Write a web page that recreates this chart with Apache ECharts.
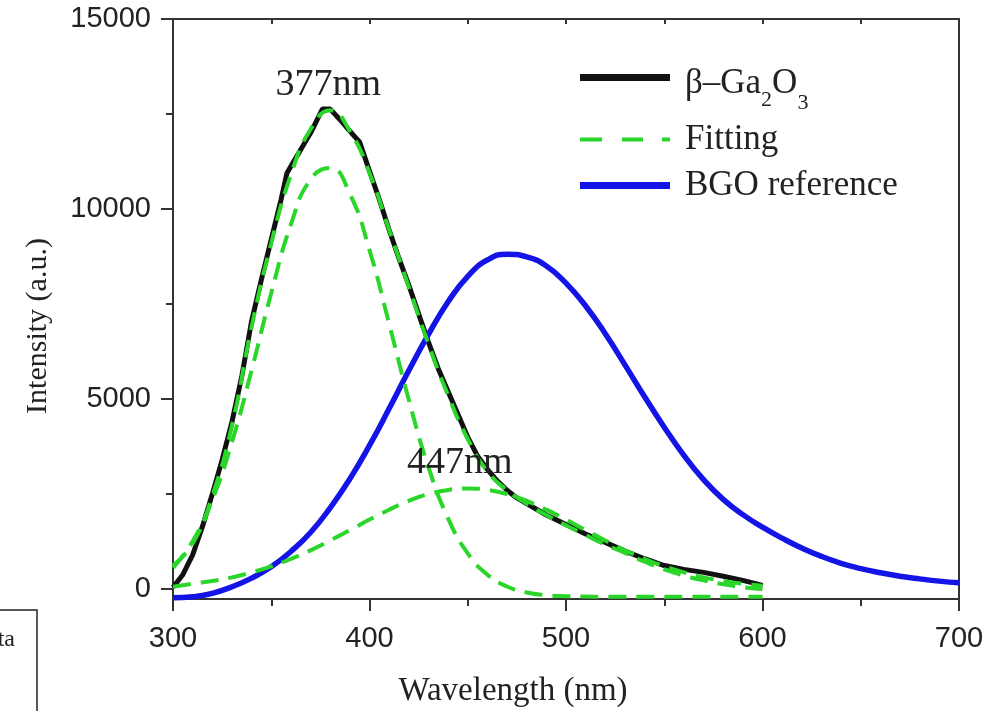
<!DOCTYPE html>
<html><head><meta charset="utf-8">
<script src="https://cdn.jsdelivr.net/npm/echarts@6/dist/echarts.min.js"></script>
<style>html,body{margin:0;padding:0;background:#fff}#c{width:996px;height:711px}</style>
</head><body><div id="c"></div>
<script>
// β-Ga2O3 measured emission
const gaWl  = [300,305,310,315,320,325,330,335,340,345,350,355,358,362,366,370,376,380,385,390,395,400,405,410,415,420,426,430,435,440,445,450,455,460,465,470,475,480,490,500,510,520,530,540,550,560,570,580,590,600];
const gaVal = [50,380,900,1650,2500,3400,4400,5600,7050,8150,9200,10250,10950,11300,11650,12000,12630,12630,12350,12050,11760,11000,10250,9450,8700,8000,7090,6500,5800,5200,4600,4000,3500,3150,2850,2600,2400,2250,1950,1700,1450,1230,1000,800,620,520,440,340,230,100];
// Fitting (total, 377 nm band, 447 nm band)
const fitWl    = [300,310,320,330,340,350,360,370,380,390,400,410,420,430,440,450,460,470,480,490,500,510,520,530,540,550,560,570,580,590,600];
const fitTotal = [620,1200,2450,4300,6900,9100,10900,12100,12600,12050,10950,9450,7950,6450,5100,3950,3100,2600,2250,1950,1680,1420,1170,950,720,520,360,230,130,50,0];
const fit377   = [560,1260,2350,3870,5760,7790,9590,10780,11080,10400,8920,6980,4980,3210,1860,940,380,70,-90,-160,-185,-195,-200,-200,-200,-200,-200,-200,-200,-200,-200];
const fit447   = [60,140,215,310,440,600,795,1020,1280,1550,1830,2090,2320,2500,2610,2650,2610,2500,2320,2090,1830,1550,1280,1020,795,600,440,310,215,140,90];
// BGO reference
const bgoWl  = [300,310,320,330,340,350,360,370,380,390,400,410,420,430,440,450,460,470,480,490,500,510,520,530,540,550,560,570,580,590,600,610,620,630,640,650,660,670,680,690,700];
const bgoVal = [-230,-200,-110,60,290,590,990,1490,2140,2900,3780,4750,5750,6700,7560,8230,8660,8810,8740,8500,8050,7450,6720,5900,5060,4260,3520,2880,2360,1960,1630,1340,1080,860,680,540,430,340,270,210,165];
// axis ticks
const yMajorTicks = [0,5000,10000,15000];
const yMinorTicks = [2500,7500,12500];
const seriesNames = ['β–Ga2O3','Fitting','BGO reference'];
const peakLabels = ['377nm','447nm'];

const zip = (xs, ys) => xs.map((x, i) => [x, ys[i]]);
const serif = 'Liberation Serif';
const sans = 'Liberation Sans';
const axisColor = '#333';
const txt = '#222';
const green = '#2bd62b';
const blue = '#1414e6';
const black = '#111';
const dash = [18, 10];

const chart = echarts.init(document.getElementById('c'), null, {renderer: 'canvas'});
const yRange = {min: -260, max: 15000};
const legendBase = {left: 580, padding: 0, itemWidth: 90, symbolKeepAspect: false};
const legendText = {fontFamily: serif, fontSize: 35, color: txt, padding: [0, 0, 0, 10]};
const option = {
  animation: false,
  backgroundColor: '#fff',
  grid: {left: 173, right: 37, top: 19, bottom: 112, containLabel: false, outerBoundsMode: 'none'},
  xAxis: [
    {type: 'value', position: 'bottom', min: 300, max: 700, interval: 100,
     axisLine: {show: true, onZero: false, lineStyle: {color: axisColor, width: 2}},
     axisTick: {show: true, inside: false, length: 12, lineStyle: {color: axisColor, width: 2}},
     minorTick: {show: true, splitNumber: 2, length: 7, lineStyle: {color: axisColor, width: 2}},
     splitLine: {show: false}, minorSplitLine: {show: false},
     axisLabel: {fontFamily: sans, fontSize: 29, color: txt, margin: 25},
     name: 'Wavelength (nm)', nameLocation: 'middle', nameGap: 76,
     nameTextStyle: {fontFamily: serif, fontSize: 33, color: txt, padding: [0, 106, 0, 0]}},
    {type: 'value', position: 'top', min: 300, max: 700, interval: 50,
     axisLine: {show: true, onZero: false, lineStyle: {color: axisColor, width: 2}},
     axisTick: {show: true, inside: true, length: 5, lineStyle: {color: axisColor, width: 2}},
     axisLabel: {show: false}, splitLine: {show: false}}
  ],
  yAxis: [
    {type: 'value', position: 'left', ...yRange,
     axisLine: {show: true, onZero: false, lineStyle: {color: axisColor, width: 2}},
     axisTick: {show: true, inside: false, length: 12, customValues: yMajorTicks, lineStyle: {color: axisColor, width: 2}},
     axisLabel: {customValues: yMajorTicks, formatter: v => String(v), fontFamily: sans, fontSize: 29, color: txt, margin: 22},
     splitLine: {show: false},
     name: 'Intensity (a.u.)', nameLocation: 'middle', nameGap: 120, nameRotate: 90,
     nameTextStyle: {fontFamily: serif, fontSize: 30, color: txt, padding: [0, 34, 0, 0]}},
    {type: 'value', position: 'right', ...yRange,
     axisLine: {show: true, onZero: false, lineStyle: {color: axisColor, width: 2}},
     axisTick: {show: false}, axisLabel: {show: false}, splitLine: {show: false}},
    {type: 'value', position: 'left', ...yRange,
     axisLine: {show: false},
     axisTick: {show: true, inside: false, length: 7, customValues: yMinorTicks, lineStyle: {color: axisColor, width: 2}},
     axisLabel: {show: false}, splitLine: {show: false}}
  ],
  legend: [
    {...legendBase, data: [{name: seriesNames[0], icon: 'rect'}], top: 66, itemHeight: 7,
     formatter: () => '{a|β–Ga}{s|2}{a|O}{t|3}',
     textStyle: {padding: [0, 0, 0, 10], rich: {
       a: {fontFamily: serif, fontSize: 35, color: txt, padding: [12, 0, 0, 0]},
       s: {fontFamily: serif, fontSize: 22, color: txt, padding: [46, 0, 0, 0]},
       t: {fontFamily: serif, fontSize: 22, color: txt, padding: [52, 0, 0, 0]}}}},
    {...legendBase, data: [{name: seriesNames[1], icon: 'path://M0,0h22v4h-22z M42,0h21v4h-21z M82,0h8v4h-8z'}], top: 122, itemHeight: 4,
     textStyle: legendText},
    {...legendBase, data: [{name: seriesNames[2], icon: 'rect'}], top: 168, itemHeight: 7,
     textStyle: legendText}
  ],
  series: [
    {name: seriesNames[0], type: 'line', symbol: 'none', data: zip(gaWl, gaVal), z: 2,
     lineStyle: {color: black, width: 5}, itemStyle: {color: black},
     markPoint: {symbol: 'circle', symbolSize: 0, silent: true,
       label: {show: true, position: 'inside', fontFamily: serif, fontSize: 38, color: txt},
       data: [{coord: [379, 13270], value: peakLabels[0]}, {coord: [446, 3330], value: peakLabels[1]}]}},
    {name: seriesNames[2], type: 'line', symbol: 'none', smooth: true, data: zip(bgoWl, bgoVal), z: 3,
     lineStyle: {color: blue, width: 5.5}, itemStyle: {color: blue}},
    {name: seriesNames[1], type: 'line', symbol: 'none', smooth: true, data: zip(fitWl, fitTotal), z: 4,
     lineStyle: {color: green, width: 4, type: dash}, itemStyle: {color: green}},
    {name: seriesNames[1], type: 'line', symbol: 'none', smooth: true, data: zip(fitWl, fit377), z: 4,
     lineStyle: {color: green, width: 4, type: dash}, itemStyle: {color: green}},
    {name: seriesNames[1], type: 'line', symbol: 'none', smooth: true, data: zip(fitWl, fit447), z: 4,
     lineStyle: {color: green, width: 4, type: dash}, itemStyle: {color: green}}
  ],
  graphic: [
    {type: 'rect', shape: {x: -5, y: 610, width: 42, height: 130}, style: {fill: 'none', stroke: '#222', lineWidth: 1.5}},
    {type: 'text', style: {text: 'Data', x: 15, y: 640, align: 'right', verticalAlign: 'middle', fontFamily: serif, fontSize: 24, fill: txt}}
  ]
};
chart.setOption(option);
</script></body></html>
